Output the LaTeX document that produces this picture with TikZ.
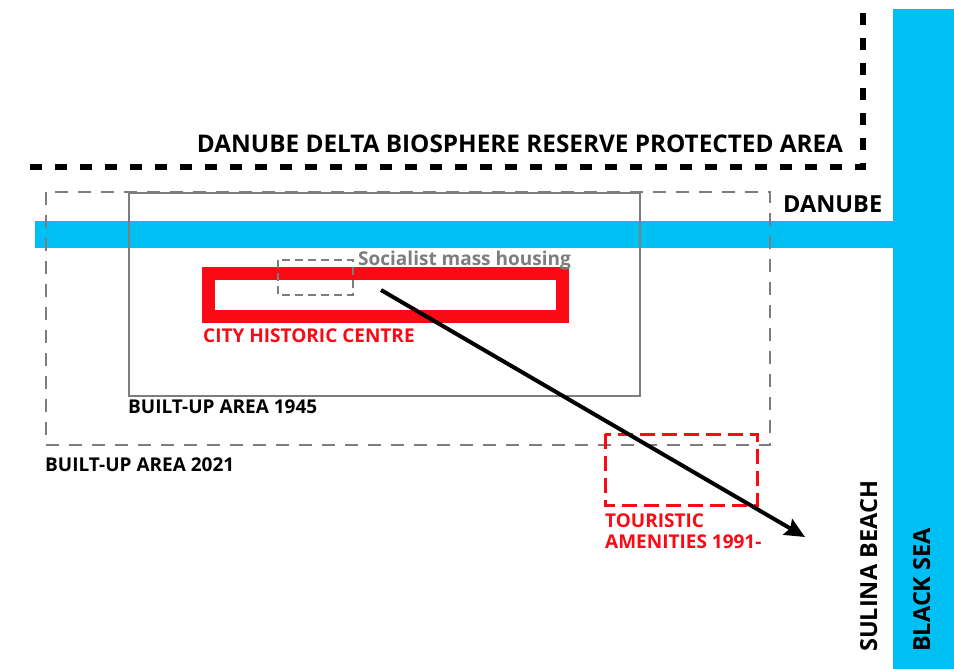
\documentclass[tikz,border=0pt]{standalone}
\usepackage{fontspec}
\setmainfont{Open Sans}
\usetikzlibrary{positioning,arrows.meta}
\definecolor{seablue}{RGB}{0,191,243}
\definecolor{mapred}{RGB}{250,10,20}
\definecolor{mapgray}{RGB}{125,125,125}

\begin{document}
\begin{tikzpicture}[x=1pt,y=-1pt,>={Stealth[length=20pt,width=18pt,inset=3pt]},
                    every node/.style={inner sep=0pt,font=\bfseries\fontsize{19}{21}\selectfont}]
  \tikzstyle{water}=[fill=seablue,draw=none]
  \tikzstyle{reserve}=[line width=6pt,dash pattern=on 12pt off 13pt]
  \tikzstyle{built21}=[draw=mapgray,line width=2pt,dash pattern=on 13pt off 10pt]
  \tikzstyle{built45}=[draw=mapgray,line width=2pt]
  \tikzstyle{housing}=[draw=mapgray,line width=2pt,dash pattern=on 8pt off 5pt]
  \tikzstyle{centre}=[draw=mapred,line width=13pt]
  \tikzstyle{tourism}=[draw=mapred,line width=3pt,dash pattern=on 15pt off 7pt]
  \tikzstyle{redlabel}=[text=mapred,align=left]
  \tikzstyle{biglabel}=[font=\bfseries\fontsize{23.5}{26}\selectfont]

  \useasboundingbox (0,0) rectangle (954,669);
  \fill[white] (0,0) rectangle (954,669);

  % water
  \fill[water] (893,9) rectangle (954,669);
  \fill[water] (35,221) rectangle (893,248);

  % protected area limit
  \draw[reserve] (30,167) -- (863,167) -- (863,10);

  % built-up areas
  \coordinate (b21nw) at (46,192);
  \coordinate (b21se) at (770,445);
  \coordinate (b45nw) at (129,193);
  \coordinate (b45se) at (640,396);
  \draw[built21] (b21nw) rectangle (b21se);
  \draw[built45] (b45nw) rectangle (b45se);

  % historic centre and housing
  \coordinate (cnw) at (208,273);
  \coordinate (cse) at (562,316);
  \draw[centre] (cnw) rectangle (cse);
  \coordinate (hnw) at (278,260);
  \coordinate (hse) at (353,295);
  \draw[housing] (hnw) rectangle (hse);

  % touristic amenities
  \coordinate (tnw) at (605,434);
  \coordinate (tse) at (757,505);
  \draw[tourism] (tnw) rectangle (tse);

  % labels
  \node[anchor=base,font=\bfseries\fontsize{24.3}{26}\selectfont] (reservelbl) at (520,152)
       {DANUBE DELTA BIOSPHERE RESERVE PROTECTED AREA};
  \node[biglabel,anchor=base west] (danubelbl) at (783,212) {DANUBE};
  \node[anchor=base west,text=mapgray] (housinglbl) at (358,265) {Socialist mass housing};
  \node[redlabel,anchor=base west] (centrelbl) at (203,342) {CITY HISTORIC CENTRE};
  \node[anchor=base west] (b45lbl) at (128,413) {BUILT-UP AREA 1945};
  \node[anchor=base west] (b21lbl) at (45,471) {BUILT-UP AREA 2021};
  \node[redlabel,anchor=north west] (tourismlbl) at (605,514)
       {TOURISTIC\\AMENITIES 1991-};
  \node[biglabel,rotate=90,anchor=base west] (beachlbl) at (877,652) {SULINA BEACH};
  \node[biglabel,rotate=90,anchor=base west] (sealbl) at (930,652) {BLACK SEA};

  % towards the beach
  \coordinate (fromhousing) at (381,290);
  \coordinate (tobeach) at (805,537);
  \draw[->,line width=4pt] (fromhousing) -- (tobeach);
\end{tikzpicture}
\end{document}
